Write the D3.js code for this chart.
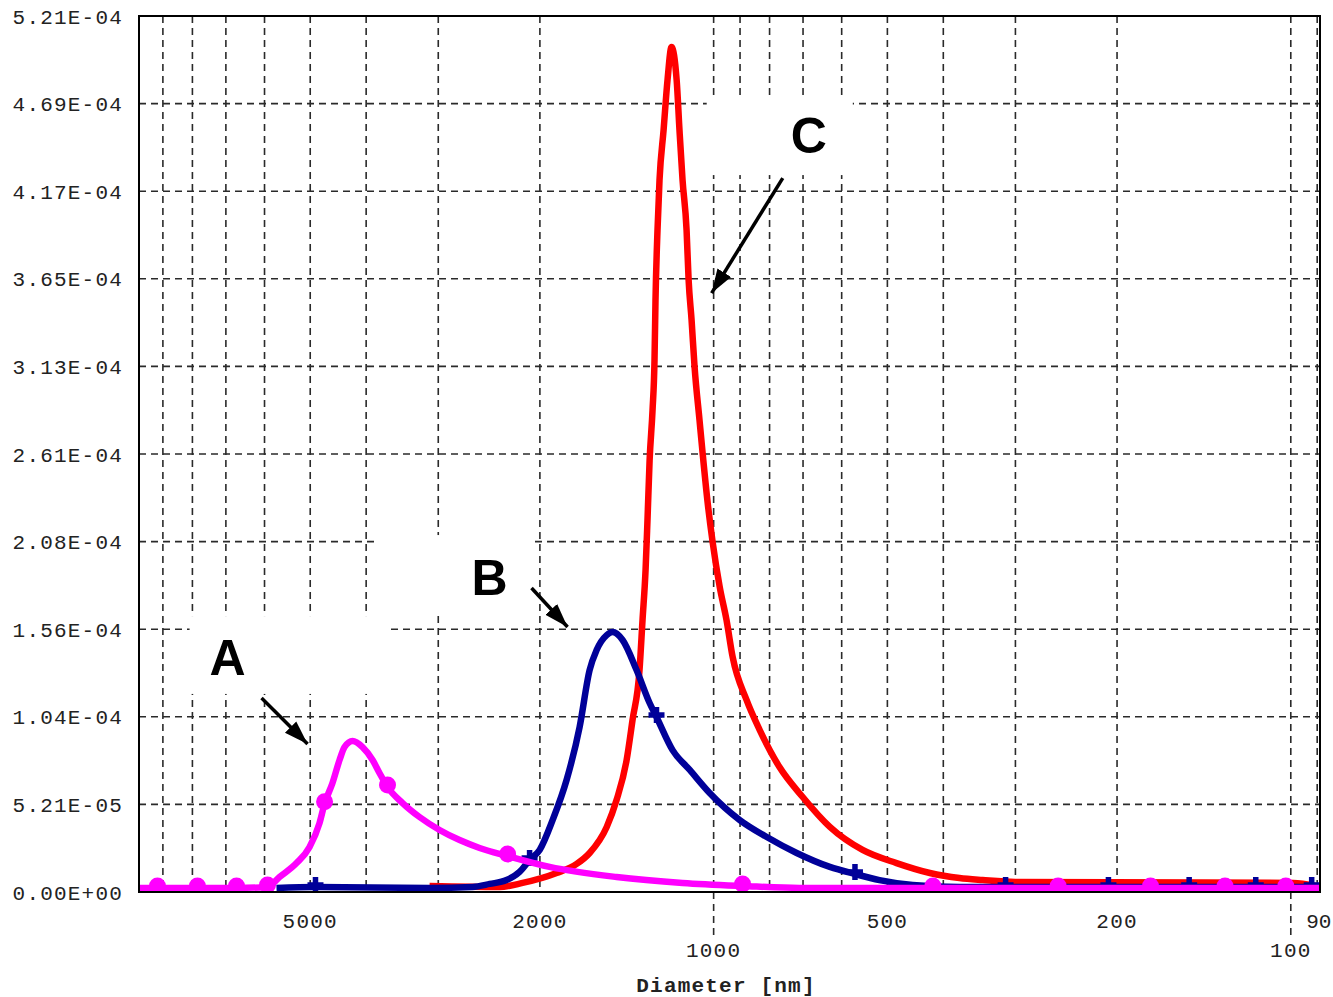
<!DOCTYPE html>
<html>
<head>
<meta charset="utf-8">
<script src="https://cdn.jsdelivr.net/npm/d3@7"></script>
<style>
  html, body { margin: 0; padding: 0; background: #fff; }
  svg { display: block; }
</style>
</head>
<body>
<svg id="chart"></svg>
<script>
// Datos: [diametro nm, valor, marcador?]
var seriesA = [
    [9881, 2.4e-6], [9197, 2.4e-6, 1], [7842, 2.4e-6, 1], [6709, 2.4e-6, 1],
    [5929, 3.0e-6, 1], [5652, 8.9e-6], [5280, 1.72e-5], [5013, 2.68e-5],
    [4818, 4.10e-5], [4722, 5.25e-5, 1], [4575, 6.48e-5], [4448, 7.85e-5],
    [4360, 8.62e-5], [4223, 8.98e-5], [4058, 8.62e-5], [3899, 7.85e-5],
    [3793, 7.08e-5], [3673, 6.24e-5, 1], [3459, 5.29e-5], [3233, 4.46e-5],
    [2985, 3.69e-5], [2755, 3.09e-5], [2544, 2.62e-5], [2275, 2.14e-5, 1],
    [1924, 1.49e-5], [1473, 8.9e-6], [1132, 5.4e-6], [891, 3.6e-6, 1],
    [710, 2.4e-6], [417, 2.4e-6, 1], [253, 2.4e-6, 1], [175, 2.4e-6, 1],
    [130, 2.4e-6, 1], [102, 2.4e-6, 1], [89, 2.4e-6]
];

var seriesB = [
    [5720, 2.4e-6], [4896, 3.0e-6, 1], [3106, 2.4e-6], [2617, 3.0e-6],
    [2444, 4.8e-6], [2285, 7.1e-6], [2169, 1.2e-5], [2084, 1.9e-5, 1],
    [2002, 2.5e-5], [1901, 4.28e-5], [1798, 6.66e-5], [1707, 9.81e-5],
    [1640, 1.32e-4], [1595, 1.439e-4], [1532, 1.528e-4], [1496, 1.546e-4],
    [1438, 1.499e-4], [1360, 1.32e-4], [1291, 1.124e-4], [1256, 1.041e-4, 1],
    [1178, 8.44e-5], [1100, 7.26e-5], [1016, 5.89e-5], [901, 4.28e-5],
    [809, 3.27e-5], [718, 2.32e-5], [629, 1.49e-5], [569, 1.07e-5, 1],
    [516, 7.1e-6], [452, 4.2e-6], [375, 3.0e-6], [312, 3.0e-6, 1],
    [207, 3.0e-6, 1], [150, 3.0e-6, 1], [115, 3.0e-6, 1], [92, 3.0e-6, 1]
];

var seriesC = [
    [3106, 3.6e-6], [2349, 3.0e-6], [2143, 5.4e-6], [1871, 1.13e-5],
    [1727, 1.67e-5], [1640, 2.32e-5], [1532, 3.87e-5], [1473, 5.47e-5],
    [1415, 7.85e-5], [1382, 1.023e-4], [1344, 1.32e-4], [1328, 1.618e-4],
    [1312, 1.915e-4], [1302, 2.212e-4], [1291, 2.569e-4], [1276, 2.866e-4],
    [1266, 3.164e-4], [1261, 3.521e-4], [1251, 3.937e-4], [1241, 4.234e-4],
    [1221, 4.532e-4], [1202, 4.829e-4], [1183, 5.025e-4], [1159, 4.829e-4],
    [1146, 4.532e-4], [1132, 4.234e-4], [1114, 3.937e-4], [1105, 3.640e-4],
    [1092, 3.402e-4], [1079, 3.122e-4], [1058, 2.807e-4], [1045, 2.611e-4],
    [1024, 2.313e-4], [1004, 2.081e-4], [976, 1.814e-4], [950, 1.618e-4],
    [927, 1.398e-4], [877, 1.142e-4], [832, 9.63e-5], [769, 7.43e-5],
    [701, 5.65e-5], [629, 3.87e-5], [552, 2.50e-5], [482, 1.72e-5],
    [422, 1.13e-5], [375, 8.3e-6], [342, 7.1e-6], [300, 5.9e-6],
    [99, 5.4e-6], [90.5, 3.6e-6]
];

var yMax = 5.21e-4;
var yTickLabels = ['0.00E+00', '5.21E-05', '1.04E-04', '1.56E-04', '2.08E-04',
    '2.61E-04', '3.13E-04', '3.65E-04', '4.17E-04', '4.69E-04', '5.21E-04'];

var xGrid = [9000, 8000, 7000, 6000, 5000, 4000, 3000, 2000,
    1000, 900, 800, 700, 600, 500, 400, 300, 200, 100, 90];
var xTickLabels = [5000, 2000, 500, 200, 90];
var xDecadeLabels = [1000, 100];
var xTitle = 'Diameter [nm]';

// Etiquetas A, B, C (en unidades de datos)
var notes = [
    { text: 'A', at: [7472, 1.29e-4], from: [6072, 1.154e-4], to: [5053, 8.80e-5],
      box: [8091, 3688, 1.641e-4, 1.178e-4] },
    { text: 'B', at: [2627, 1.766e-4], from: [2068, 1.808e-4], to: [1791, 1.576e-4],
      box: [3823, 2059, 2.123e-4, 1.647e-4] },
    { text: 'C', at: [735, 4.395e-4], from: [759, 4.246e-4], to: [1008, 3.562e-4],
      box: [1028, 574, 4.740e-4, 4.264e-4] }
];

// Ajustes del canvas
var W = 1333, H = 997;
var svg = d3.select('#chart').attr('width', W).attr('height', H);

var x = d3.scaleLog().domain([9900, 89]).range([139, 1320]);
var y = d3.scaleLinear().domain([0, yMax]).range([892, 16]);

var monoFont = '"Liberation Mono", "DejaVu Sans Mono", monospace';

svg.append('defs').append('clipPath').attr('id', 'plot')
    .append('rect')
    .attr('x', x.range()[0]).attr('y', y.range()[1])
    .attr('width', x.range()[1] - x.range()[0])
    .attr('height', y.range()[0] - y.range()[1]);

d3.select('defs').append('marker')
    .attr('id', 'head')
    .attr('markerUnits', 'userSpaceOnUse')
    .attr('markerWidth', 26).attr('markerHeight', 20)
    .attr('refX', 24).attr('refY', 10)
    .attr('orient', 'auto')
    .append('path')
    .attr('d', 'M0,2 L24,10 L0,18 Z')
    .attr('fill', '#000');

// Rejilla
var yTicks = d3.range(1, 10).map(function(i) { return i * yMax / 10; });
svg.append('g').selectAll('line')
    .data(yTicks).enter().append('line')
    .attr('x1', x.range()[0]).attr('x2', x.range()[1])
    .attr('y1', function(d) { return y(d); })
    .attr('y2', function(d) { return y(d); })
    .attr('stroke', '#2a2a2a').attr('stroke-width', 1.6)
    .attr('stroke-dasharray', '7,5');

svg.append('g').selectAll('line')
    .data(xGrid).enter().append('line')
    .attr('x1', function(d) { return x(d); })
    .attr('x2', function(d) { return x(d); })
    .attr('y1', y.range()[1])
    .attr('y2', function(d) { return xDecadeLabels.indexOf(d) >= 0 ? y.range()[0] + 43 : y.range()[0]; })
    .attr('stroke', '#2a2a2a').attr('stroke-width', 1.6)
    .attr('stroke-dasharray', '7,5');

// Cajas blancas de las etiquetas
svg.append('g').selectAll('rect')
    .data(notes).enter().append('rect')
    .attr('x', function(d) { return x(d.box[0]); })
    .attr('y', function(d) { return y(d.box[2]); })
    .attr('width', function(d) { return x(d.box[1]) - x(d.box[0]); })
    .attr('height', function(d) { return y(d.box[3]) - y(d.box[2]); })
    .attr('fill', '#fff');

// Curvas
var line = d3.line()
    .x(function(d) { return x(d[0]); })
    .y(function(d) { return y(d[1]); })
    .curve(d3.curveMonotoneX);

var curves = svg.append('g').attr('clip-path', 'url(#plot)');

function drawSeries(data, color, kind) {
    curves.append('path')
        .datum(data)
        .attr('d', line)
        .attr('fill', 'none')
        .attr('stroke', color)
        .attr('stroke-width', 6.5)
        .attr('stroke-linejoin', 'round');
    var pts = data.filter(function(d) { return d[2]; });
    if (kind === 'circle') {
        curves.append('g').selectAll('circle')
            .data(pts).enter().append('circle')
            .attr('cx', function(d) { return x(d[0]); })
            .attr('cy', function(d) { return y(d[1]) - 2; })
            .attr('r', 8.5)
            .attr('fill', color);
    } else if (kind === 'plus') {
        curves.append('g').selectAll('path')
            .data(pts).enter().append('path')
            .attr('d', function(d) {
                var cx = x(d[0]), cy = y(d[1]) - 2;
                return 'M' + (cx - 8) + ',' + cy + 'H' + (cx + 8) +
                    'M' + cx + ',' + (cy - 8) + 'V' + (cy + 8);
            })
            .attr('stroke', color)
            .attr('stroke-width', 5.5)
            .attr('fill', 'none');
    }
}

drawSeries(seriesC, '#ff0000', 'none');
drawSeries(seriesB, '#000099', 'plus');
drawSeries(seriesA, '#ff00ff', 'circle');

// Marco
svg.append('rect')
    .attr('x', x.range()[0]).attr('y', y.range()[1])
    .attr('width', x.range()[1] - x.range()[0])
    .attr('height', y.range()[0] - y.range()[1])
    .attr('fill', 'none').attr('stroke', '#000').attr('stroke-width', 2);

// Texto de los ejes
var yAll = d3.range(0, 11).map(function(i) { return i * yMax / 10; });
svg.append('g').selectAll('text')
    .data(yAll).enter().append('text')
    .attr('x', 123)
    .attr('y', function(d) { return y(d) + 7.5; })
    .attr('text-anchor', 'end')
    .attr('font-family', monoFont)
    .attr('font-size', 21)
    .attr('letter-spacing', 1.2)
    .attr('fill', '#222')
    .text(function(d, i) { return yTickLabels[i]; });

svg.append('g').selectAll('text')
    .data(xTickLabels.concat(xDecadeLabels)).enter().append('text')
    .attr('x', function(d) { return x(d); })
    .attr('y', function(d) { return xDecadeLabels.indexOf(d) >= 0 ? 957 : 928; })
    .attr('text-anchor', function(d) { return d === 90 ? 'start' : 'middle'; })
    .attr('dx', function(d) { return d === 90 ? -11 : 0; })
    .attr('font-family', monoFont)
    .attr('font-size', 21)
    .attr('letter-spacing', function(d) { return d === 90 ? 0 : 1.2; })
    .attr('fill', '#222')
    .text(function(d) { return d; });

svg.append('text')
    .attr('x', 726).attr('y', 992)
    .attr('text-anchor', 'middle')
    .attr('font-family', monoFont)
    .attr('font-size', 21)
    .attr('font-weight', 'bold')
    .attr('letter-spacing', 1.2)
    .attr('fill', '#222')
    .text(xTitle);

// Flechas y letras
var ann = svg.append('g');
ann.selectAll('line')
    .data(notes).enter().append('line')
    .attr('x1', function(d) { return x(d.from[0]); })
    .attr('y1', function(d) { return y(d.from[1]); })
    .attr('x2', function(d) { return x(d.to[0]); })
    .attr('y2', function(d) { return y(d.to[1]); })
    .attr('stroke', '#000').attr('stroke-width', 3.5)
    .attr('marker-end', 'url(#head)');

ann.selectAll('text')
    .data(notes).enter().append('text')
    .attr('x', function(d) { return x(d.at[0]); })
    .attr('y', function(d) { return y(d.at[1]); })
    .attr('font-family', '"Liberation Sans", Arial, sans-serif')
    .attr('font-weight', 'bold')
    .attr('font-size', 50)
    .attr('fill', '#000')
    .text(function(d) { return d.text; });
</script>
</body>
</html>
